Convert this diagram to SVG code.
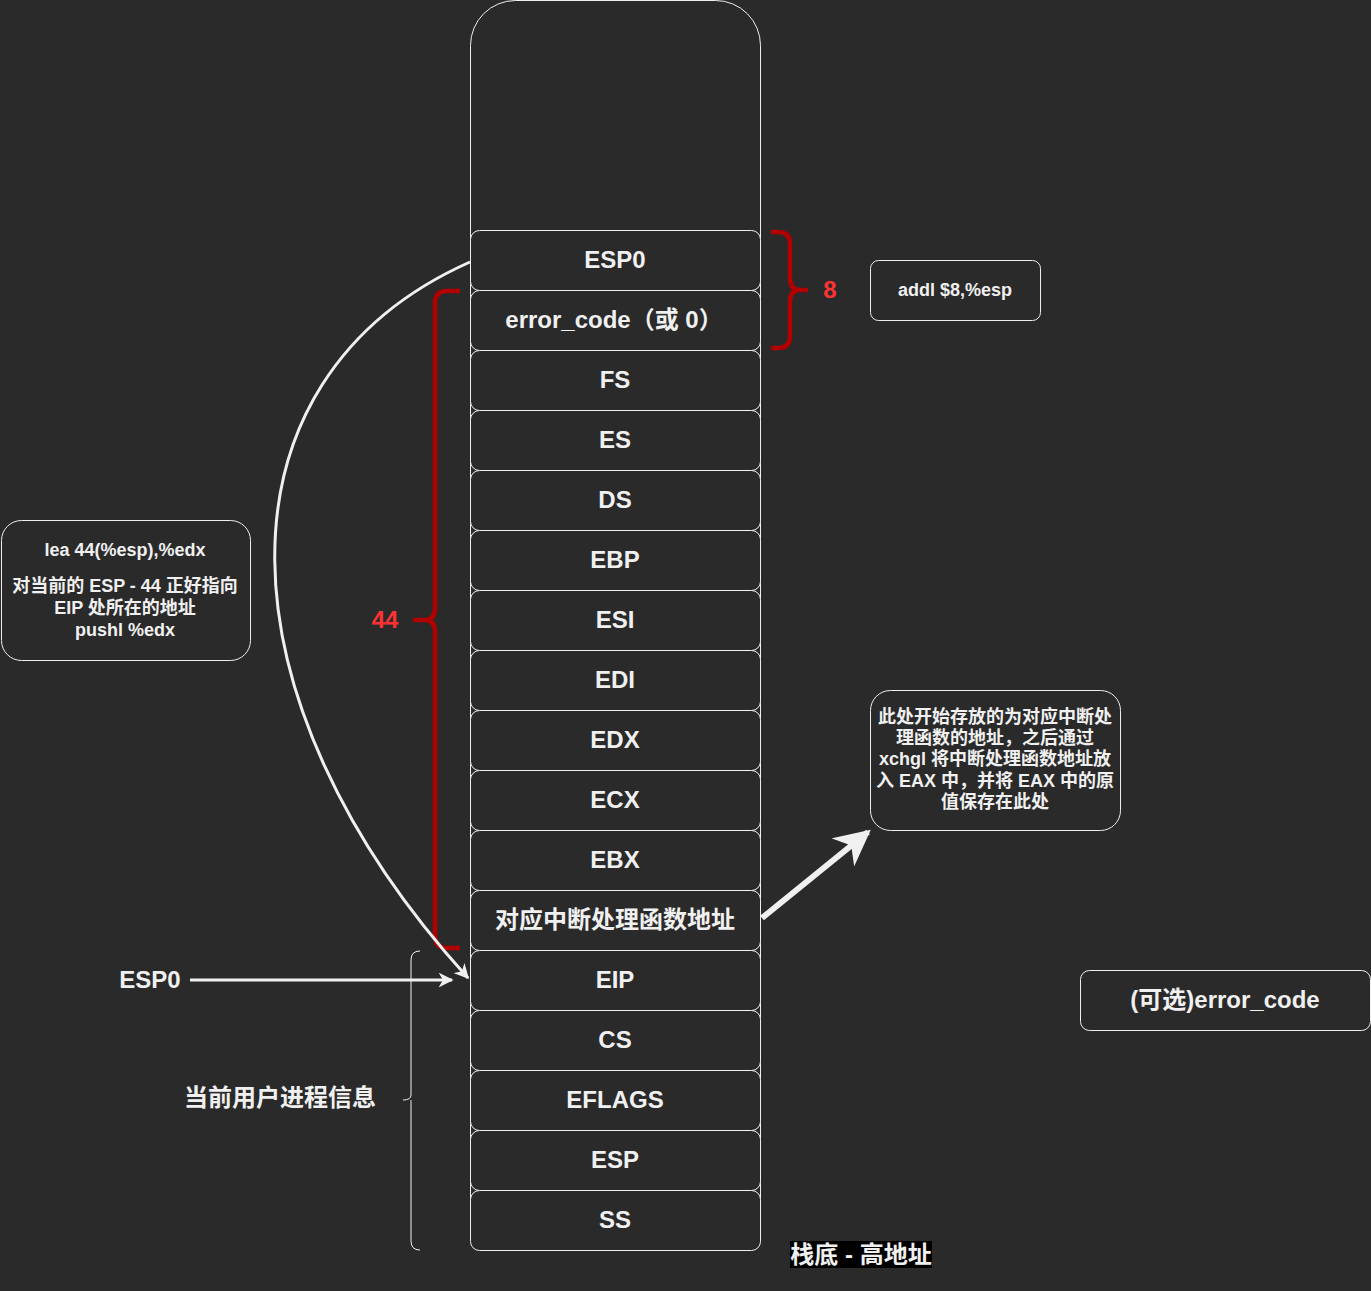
<svg xmlns="http://www.w3.org/2000/svg" width="1371" height="1291" viewBox="0 0 1371 1291">
<defs>
<style>
.t{font-family:"Liberation Sans","Noto Sans CJK SC",sans-serif;font-weight:bold;fill:#f0f0f0;text-anchor:middle;dominant-baseline:central}
.cell{fill:#2a2a2a;stroke:#f0f0f0;stroke-width:1}
.c22{font-size:24px}
.c16{font-size:18px}
.red{fill:#ff3333;font-size:24px}
</style>
<marker id="ah" viewBox="0 0 10 10" refX="9" refY="5" markerWidth="5" markerHeight="5" orient="auto" markerUnits="strokeWidth">
<path d="M0,0 L10,5 L0,10 L3,5 Z" fill="#f0f0f0"/>
</marker>
<marker id="ah2" viewBox="0 0 10 10" refX="9" refY="5" markerWidth="6" markerHeight="6" orient="auto" markerUnits="strokeWidth">
<path d="M0,0 L10,5 L0,10 L3,5 Z" fill="#f0f0f0"/>
</marker>
</defs>
<rect x="0" y="0" width="1371" height="1291" fill="#2a2a2a"/>
<g id="stack-frame"><rect class="cell" x="470.5" y="0.5" width="290" height="1250" rx="45"/></g>
<g id="cell-esp0"><rect class="cell" x="470.5" y="230.5" width="290" height="60" rx="9"/><text class="t c22" x="615" y="259">ESP0</text></g>
<g id="cell-errcode"><rect class="cell" x="470.5" y="290.5" width="290" height="60" rx="9"/><text class="t c22" x="614" y="319">error_code（或 0）</text></g>
<g id="cell-fs"><rect class="cell" x="470.5" y="350.5" width="290" height="60" rx="9"/><text class="t c22" x="615" y="379">FS</text></g>
<g id="cell-es"><rect class="cell" x="470.5" y="410.5" width="290" height="60" rx="9"/><text class="t c22" x="615" y="439">ES</text></g>
<g id="cell-ds"><rect class="cell" x="470.5" y="470.5" width="290" height="60" rx="9"/><text class="t c22" x="615" y="499">DS</text></g>
<g id="cell-ebp"><rect class="cell" x="470.5" y="530.5" width="290" height="60" rx="9"/><text class="t c22" x="615" y="559">EBP</text></g>
<g id="cell-esi"><rect class="cell" x="470.5" y="590.5" width="290" height="60" rx="9"/><text class="t c22" x="615" y="619">ESI</text></g>
<g id="cell-edi"><rect class="cell" x="470.5" y="650.5" width="290" height="60" rx="9"/><text class="t c22" x="615" y="679">EDI</text></g>
<g id="cell-edx"><rect class="cell" x="470.5" y="710.5" width="290" height="60" rx="9"/><text class="t c22" x="615" y="739">EDX</text></g>
<g id="cell-ecx"><rect class="cell" x="470.5" y="770.5" width="290" height="60" rx="9"/><text class="t c22" x="615" y="799">ECX</text></g>
<g id="cell-ebx"><rect class="cell" x="470.5" y="830.5" width="290" height="60" rx="9"/><text class="t c22" x="615" y="859">EBX</text></g>
<g id="cell-handler"><rect class="cell" x="470.5" y="890.5" width="290" height="60" rx="9"/><text class="t c22" x="615" y="919">对应中断处理函数地址</text></g>
<g id="cell-eip"><rect class="cell" x="470.5" y="950.5" width="290" height="60" rx="9"/><text class="t c22" x="615" y="979">EIP</text></g>
<g id="cell-cs"><rect class="cell" x="470.5" y="1010.5" width="290" height="60" rx="9"/><text class="t c22" x="615" y="1039">CS</text></g>
<g id="cell-eflags"><rect class="cell" x="470.5" y="1070.5" width="290" height="60" rx="9"/><text class="t c22" x="615" y="1099">EFLAGS</text></g>
<g id="cell-esp"><rect class="cell" x="470.5" y="1130.5" width="290" height="60" rx="9"/><text class="t c22" x="615" y="1159">ESP</text></g>
<g id="cell-ss"><rect class="cell" x="470.5" y="1190.5" width="290" height="60" rx="9"/><text class="t c22" x="615" y="1219">SS</text></g>
<g id="note-lea"><rect class="cell" x="1.5" y="520.5" width="249" height="140" rx="20"/>
<text class="t c16" x="125" y="550">lea 44(%esp),%edx</text>
<text class="t c16" x="125" y="586">对当前的 ESP - 44 正好指向</text>
<text class="t c16" x="125" y="608">EIP 处所在的地址</text>
<text class="t c16" x="125" y="630">pushl %edx</text></g>
<g id="note-handler"><rect class="cell" x="870.5" y="690.5" width="250" height="140" rx="20"/>
<text class="t c16" x="995" y="717">此处开始存放的为对应中断处</text>
<text class="t c16" x="995" y="738">理函数的地址，之后通过</text>
<text class="t c16" x="995" y="759">xchgl 将中断处理函数地址放</text>
<text class="t c16" x="995" y="781">入 EAX 中，并将 EAX 中的原</text>
<text class="t c16" x="995" y="802">值保存在此处</text></g>
<g id="note-addl"><rect class="cell" x="870.5" y="260.5" width="170" height="60" rx="8"/><text class="t c16" x="955" y="290">addl $8,%esp</text></g>
<g id="note-opt"><rect class="cell" x="1080.5" y="970.5" width="290" height="60" rx="9"/><text class="t c22" x="1225" y="999">(可选)error_code</text></g>
<g id="label-esp0"><text class="t c22" x="150" y="979">ESP0</text></g>
<g id="label-user"><text class="t c22" x="280" y="1097">当前用户进程信息</text></g>
<g id="label-bottom"><rect x="790" y="1241" width="142" height="27" fill="#000"/><text class="t c22" x="861" y="1254">栈底 - 高地址</text></g>
<g id="label-8"><text class="t red" x="830" y="289">8</text></g>
<g id="label-44"><text class="t red" x="385" y="619">44</text></g>
<g id="connectors" fill="none">
<path d="M771,232 H778 Q790,232 790,244 V278 Q790,290 800,290 H808 M800,290 Q790,290 790,302 V336 Q790,348 778,348 H771" stroke="#b20000" stroke-width="4.5"/>
<path d="M460,291 H447 Q435,291 435,303 V608 Q435,620 425,620 H413 M425,620 Q435,620 435,632 V936 Q435,948 447,948 H460" stroke="#b20000" stroke-width="4.5"/>
<path d="M420,951 Q411,951 411,960 V1095 Q411,1100 403,1100 M411,1100 Q411,1100 411,1105 V1241 Q411,1250 420,1250" stroke="#f0f0f0" stroke-width="1"/>
<path d="M470,262 C205,380 215,700 468,978" stroke="#f0f0f0" stroke-width="3" marker-end="url(#ah)"/>
<path d="M190,980 H452" stroke="#f0f0f0" stroke-width="3" marker-end="url(#ah)"/>
<path d="M762,918 L868,832" stroke="#f0f0f0" stroke-width="6" marker-end="url(#ah2)"/>
</g>
</svg>
